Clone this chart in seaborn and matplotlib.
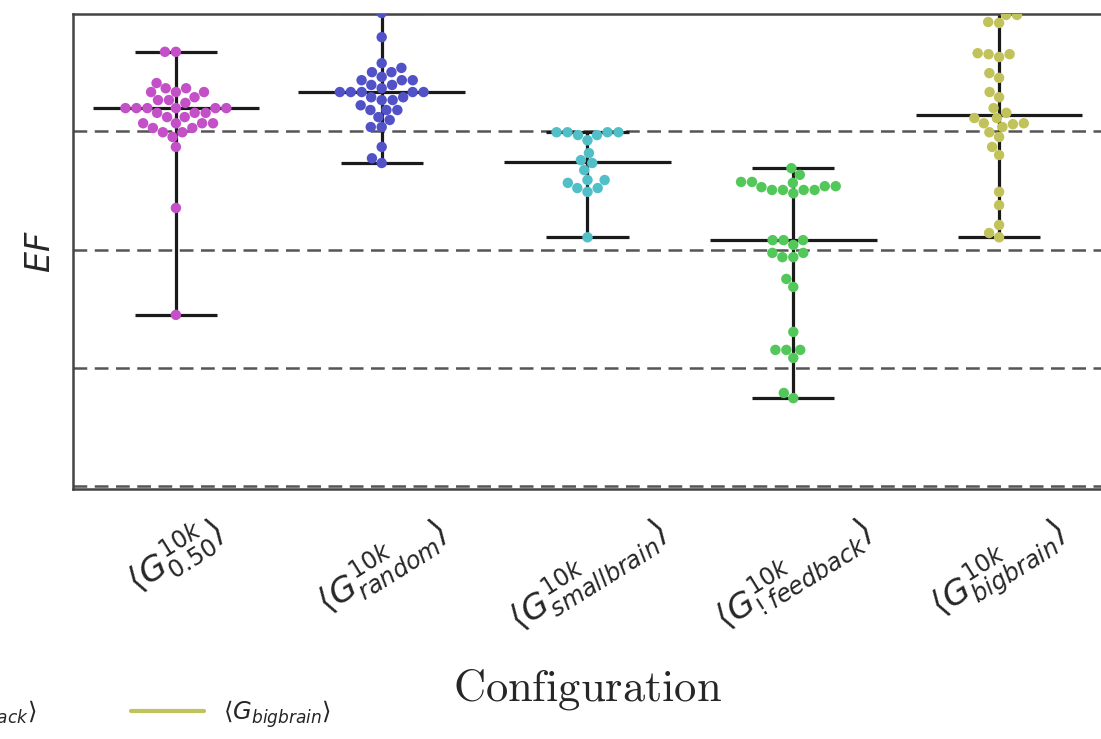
import numpy as np
import pandas as pd
import matplotlib
matplotlib.use("Agg")
import matplotlib.pyplot as plt
from matplotlib.lines import Line2D
import seaborn as sns

# ---- data ----
config_names = ["G050", "Grandom", "Gsmallbrain", "Gnofeedback", "Gbigbrain"]
tick_labels = [r"$\langle G^{10k}_{0.50}\rangle$",
               r"$\langle G^{10k}_{random}\rangle$",
               r"$\langle G^{10k}_{smallbrain}\rangle$",
               r"$\langle G^{10k}_{!feedback}\rangle$",
               r"$\langle G^{10k}_{bigbrain}\rangle$"]
legend_labels = [r"$\langle G_{0.50}\rangle$",
                 r"$\langle G_{random}\rangle$",
                 r"$\langle G_{smallbrain}\rangle$",
                 r"$\langle G_{!feedback}\rangle$",
                 r"$\langle G_{bigbrain}\rangle$"]
colors = ["#c450c8", "#5252c8", "#50bfc8", "#52c75a", "#c2c25a"]

ef_050 = [0.918, 0.918, 0.852, 0.841, 0.841, 0.833, 0.833, 0.833, 0.822, 0.816,
          0.816, 0.810, 0.799, 0.799, 0.799, 0.799, 0.799, 0.799, 0.789, 0.789,
          0.789, 0.780, 0.780, 0.767, 0.767, 0.767, 0.767, 0.757, 0.757, 0.748,
          0.748, 0.738, 0.717, 0.588, 0.362]
ef_random = [1.000, 0.949, 0.894, 0.884, 0.875, 0.875, 0.865, 0.858, 0.858, 0.858,
             0.848, 0.848, 0.841, 0.833, 0.833, 0.833, 0.833, 0.833, 0.822, 0.822,
             0.816, 0.816, 0.805, 0.795, 0.795, 0.795, 0.780, 0.774, 0.759, 0.759,
             0.717, 0.693, 0.683]
ef_smallbrain = [0.748, 0.748, 0.748, 0.748, 0.742, 0.742, 0.731, 0.704, 0.689,
                 0.683, 0.668, 0.647, 0.647, 0.641, 0.630, 0.630, 0.622, 0.526]
ef_nofeedback = [0.672, 0.658, 0.643, 0.643, 0.641, 0.634, 0.634, 0.632, 0.626, 0.626,
                 0.626, 0.626, 0.619, 0.520, 0.520, 0.520, 0.510, 0.493, 0.493, 0.484,
                 0.484, 0.438, 0.421, 0.326, 0.288, 0.288, 0.288, 0.271, 0.197, 0.186]
ef_bigbrain = [1.030, 0.996, 0.996, 0.981, 0.979, 0.915, 0.913, 0.913, 0.907, 0.873,
               0.863, 0.833, 0.822, 0.799, 0.789, 0.778, 0.778, 0.767, 0.767, 0.765,
               0.759, 0.748, 0.738, 0.717, 0.700, 0.622, 0.594, 0.552, 0.535, 0.526]
grid_levels = [0.0, 0.25, 0.5, 0.75]

series = [ef_050, ef_random, ef_smallbrain, ef_nofeedback, ef_bigbrain]
df = pd.DataFrame({
    "config": np.concatenate([[n] * len(v) for n, v in zip(config_names, series)]),
    "EF": np.concatenate(series),
})

sns.set_style("white")
fig = plt.figure(figsize=(11.01, 7.39), dpi=100)
ax = fig.add_axes([0.0663, 0.3383, 0.9346, 0.6428])

# summary lines (min / median / max)
for i, v in enumerate(series):
    lo, med, hi = np.min(v), np.median(v), np.max(v)
    ax.vlines(i, lo, hi, color="#1a1a1a", lw=2.3, zorder=1)
    ax.hlines([lo, hi], i - 0.2, i + 0.2, color="#1a1a1a", lw=2.3, zorder=1)
    ax.hlines(med, i - 0.405, i + 0.405, color="#1a1a1a", lw=2.3, zorder=1)

sns.swarmplot(data=df, x="config", y="EF", order=config_names, hue="config",
              hue_order=config_names, palette=colors, size=7.5, legend=False,
              ax=ax, zorder=3)

ax.set_ylim(-0.006, 0.998)
ax.set_xlim(-0.5, 4.5)
ax.set_yticks(grid_levels)
ax.set_yticklabels([])
ax.yaxis.grid(True, ls="--", color="#555555", lw=1.8, dashes=(5.5, 3))
ax.xaxis.grid(False)
ax.tick_params(axis="both", length=0)
ax.set_xticks(range(len(config_names)))
ax.set_xticklabels(tick_labels, rotation=32, ha="center", fontsize=24.5)
ax.tick_params(axis="x", pad=14)
for s in ax.spines.values():
    s.set_color("#444444")
    s.set_linewidth(1.8)

ax.set_ylabel(r"$EF$", fontsize=24, labelpad=8)
ax.set_xlabel(r"$\mathrm{Configuration}$", fontsize=32, math_fontfamily="cm",
              labelpad=18)

handles = [Line2D([], [], color=c, lw=3) for c in colors]
fig.legend(handles, legend_labels, loc="center right", ncol=5, frameon=False,
           bbox_to_anchor=(0.321, 0.034), fontsize=17.5, handlelength=3.0,
           handletextpad=0.8, columnspacing=3.9)

fig.savefig("out.png", dpi=100)
